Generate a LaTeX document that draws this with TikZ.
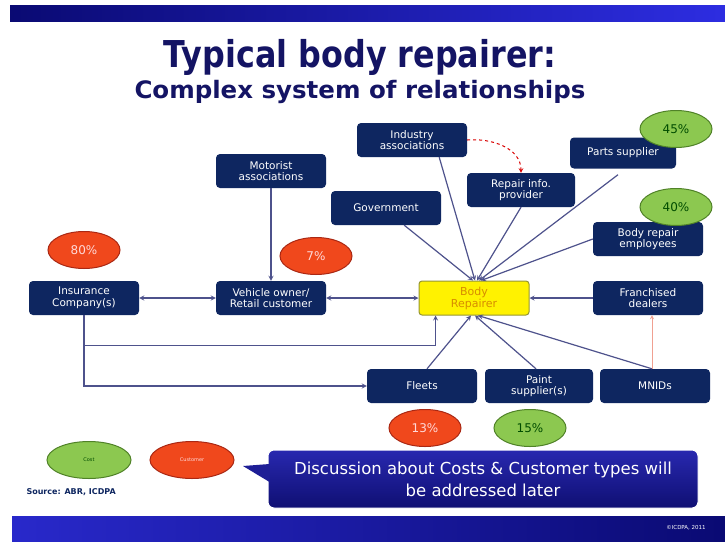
\documentclass[tikz,border=0pt]{standalone}
\usepackage{fontspec}
\setmainfont{DejaVu Sans}
\usepackage{tikz}
\usetikzlibrary{shapes,arrows}
\usetikzlibrary{positioning}
\usetikzlibrary{calc}

\definecolor{boxnavy}{RGB}{14,38,96}
\definecolor{linkcol}{RGB}{78,82,140}
\definecolor{redell}{RGB}{240,72,28}
\definecolor{redrim}{RGB}{170,40,20}
\definecolor{greenell}{RGB}{140,200,80}
\definecolor{greenrim}{RGB}{80,130,40}
\definecolor{titlecol}{RGB}{20,20,100}
\definecolor{barnavy}{RGB}{10,10,115}
\definecolor{barblue}{RGB}{45,45,225}
\definecolor{reprim}{RGB}{150,150,50}
\definecolor{reptext}{RGB}{215,140,0}
\definecolor{pinkline}{RGB}{240,160,145}
\definecolor{notetop}{RGB}{40,40,175}
\definecolor{notebot}{RGB}{15,15,115}
\definecolor{notetip}{RGB}{30,30,150}

\tikzset{
	actor/.style={rectangle, rounded corners=4pt, fill=boxnavy, text=white,
		minimum width=110pt, minimum height=34pt, align=center,
		font=\fontsize{10.5}{11.5}\selectfont, inner sep=1pt},
	share/.style={ellipse, draw, line width=1pt, minimum width=72pt, minimum height=37pt,
		font=\fontsize{12}{13}\selectfont, inner sep=0pt},
	redshare/.style={share, fill=redell, draw=redrim, text=red!15},
	greenshare/.style={share, fill=greenell, draw=greenrim, text=green!30!black},
	link/.style={draw=linkcol, line width=1.2pt},
}

\begin{document}
\begin{tikzpicture}[>=stealth, x=1pt, y=-1pt]
	\useasboundingbox (0,0) rectangle (725,541);
	\fill[white] (0,0) rectangle (725,541);

	% Bars and title
	% --------------
	\shade[left color=barnavy, right color=barblue] (10,5) rectangle (725,21);
	\shade[left color=barblue!90!black, right color=barnavy] (12,516) rectangle (725,541);
	\node[text=titlecol, font=\bfseries\fontsize{37}{40}\selectfont] (title) at (360,57)
		{\scalebox{0.86}[1]{Typical body repairer:}};
	\node[text=titlecol, font=\bfseries\fontsize{24}{27}\selectfont] (subtitle) at (360,92)
		{\scalebox{1.02}[1]{Complex system of relationships}};

	% Actors
	% ------
	\node[actor] (ind) at (412,140) {Industry\\associations};
	\node[actor] (mot) at (271,171) {Motorist\\associations};
	\node[actor] (gov) at (386,208) {Government};
	\node[actor, minimum width=108pt] (rip) at (521,190) {Repair info.\\provider};
	\node[actor, minimum width=106pt, minimum height=31pt] (parts) at (623,153) {Parts supplier};
	\node[actor] (emp) at (648,239) {Body repair\\employees};
	\node[actor] (ins) at (84,298) {Insurance\\Company(s)};
	\node[actor] (veh) at (271,298) {Vehicle owner/\\Retail customer};
	\node[rectangle, rounded corners=3pt, fill=yellow, draw=reprim,
		line width=1pt, text=reptext, minimum width=110pt,
		minimum height=34pt, align=center, font=\fontsize{11}{12}\selectfont, inner sep=1pt]
		(br) at (474,298) {Body\\Repairer};
	\node[actor] (fra) at (648,298) {Franchised\\dealers};
	\node[actor] (fleet) at (422,386) {Fleets};
	\node[actor, minimum width=108pt] (paint) at (539,386) {Paint\\supplier(s)};
	\node[actor] (mnid) at (655,386) {MNIDs};

	% Shares
	% ------
	\node[redshare] (s80) at (84,250) {80\%};
	\node[redshare] (s7) at (316,256) {7\%};
	\node[greenshare] (s45) at (676,129) {45\%};
	\node[greenshare] (s40) at (676,207) {40\%};
	\node[redshare] (s13) at (425,428) {13\%};
	\node[greenshare] (s15) at (530,428) {15\%};
	\node[greenshare, minimum width=84pt, font=\fontsize{5}{6}\selectfont] (cost) at (89,460) {Cost};
	\node[redshare, minimum width=84pt, font=\fontsize{5}{6}\selectfont] (cust) at (192,460) {Customer};

	% Links
	% -----
	\draw[link, <->] (ins) -- (veh);
	\draw[link, <->] (veh) -- (br);
	\draw[link, ->] (mot) -- (veh);
	\draw[link, ->] (fra) -- (br);
	\draw[link, ->] (gov.south east) ++(-37,0) -- ($(br.north)+(-1,0)$);
	\draw[link, ->] (ind.south east) ++(-28,0) -- ($(br.north)+(1,0)$);
	\draw[link, ->] (rip.south) -- ($(br.north)+(3,0)$);
	\draw[link, ->] ($(parts.south)+(-5,6)$) -- ($(br.north)+(5,0)$);
	\draw[link, ->] (emp.west) -- ($(br.north)+(7,0)$);
	\draw[link, ->] ($(fleet.north)+(5,0)$) -- ($(br.south)+(-3,0)$);
	\draw[link, ->] ($(paint.north)+(-3,0)$) -- ($(br.south)+(1,0)$);
	\draw[link, ->] ($(mnid.north)+(-3,0)$) -- ($(br.south)+(4,0)$);
	\draw[link, ->] (ins.south) -- ++(0,30) -| ($(br.south west)+(17,0)$);
	\draw[link, ->] (ins.south) |- (fleet.west);
	\draw[->, red!85!black, dashed, line width=1pt] (ind.east) to[out=5, in=90] (rip.north);
	\draw[->, pinkline, line width=0.8pt] ($(mnid.north)+(-3,0)$) -- ($(fra.south)+(4,0)$);

	% Note
	% ----
	\node[rectangle, rounded corners=6pt, top color=notetop, bottom color=notebot,
		draw=white, line width=1pt, minimum width=430pt, minimum height=58pt,
		text=white, align=center, font=\fontsize{16.5}{22}\selectfont] (note) at (483,479)
		{Discussion about Costs \& Customer types will\\be addressed later};
	\coordinate (tip) at (243,466);
	\fill[notetip] (tip) -- ($(note.west)+(2,-15)$) -- ($(note.west)+(2,3)$) -- cycle;

	% Source and copyright
	% --------------------
	\node[font=\bfseries\fontsize{8}{9}\selectfont, text=boxnavy, anchor=west] (src) at (23,492)
		{Source: ABR, ICDPA};
	\node[font=\fontsize{5.5}{6}\selectfont, text=white] (copy) at (686,528) {\textcopyright ICDPA, 2011};
\end{tikzpicture}
\end{document}
